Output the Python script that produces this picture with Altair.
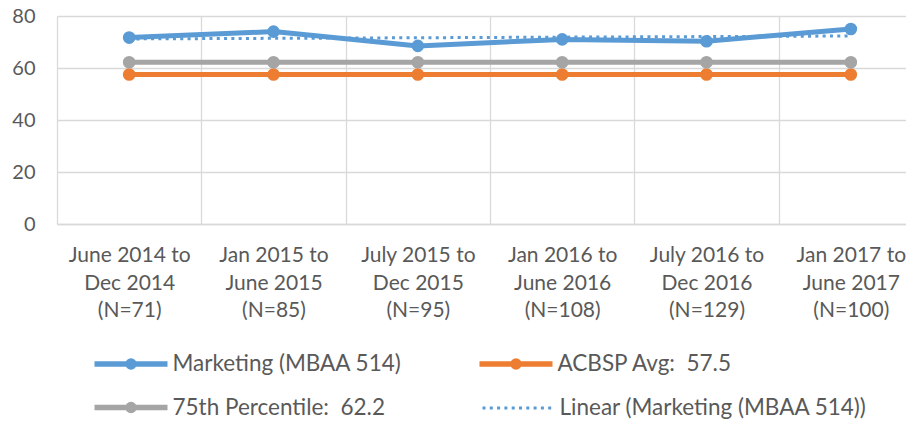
import altair as alt
import pandas as pd

# ---- data ----
periods = [
    "June 2014 to|Dec 2014|(N=71)",
    "Jan 2015 to|June 2015|(N=85)",
    "July 2015 to|Dec 2015|(N=95)",
    "Jan 2016 to|June 2016|(N=108)",
    "July 2016 to|Dec 2016|(N=129)",
    "Jan 2017 to|June 2017|(N=100)",
]
marketing = [71.7, 74.0, 68.5, 71.0, 70.3, 75.0]
acbsp_avg = [57.5, 57.5, 57.5, 57.5, 57.5, 57.5]
pct75 = [62.2, 62.2, 62.2, 62.2, 62.2, 62.2]
series_names = ["Marketing (MBAA 514)", "ACBSP Avg:\u00a0 57.5", "75th Percentile:\u00a0 62.2"]
series_colors = ["#5B9BD5", "#ED7D31", "#A5A5A5"]
trend_name = "Linear (Marketing (MBAA 514))"
y_ticks = [0, 20, 40, 60, 80]

rows = []
for name, vals in zip(series_names, [marketing, acbsp_avg, pct75]):
    for i, (p, v) in enumerate(zip(periods, vals)):
        rows.append({"series": name, "idx": i, "period": p, "value": v})
df = pd.DataFrame(rows)

FONT = "Lato"
TXT = "#595959"
GRID = "#D9D9D9"
R = 0.164
LEG_PATH = (f"M-2,0H2M{R},0A{R},{R},0,1,1,-{R},0A{R},{R},0,1,1,{R},0Z")
LEG_SIZE = 1332

VIEW_W = 849
# the category axis: one slot per period; the view shows 849 px of a 866 px wide category range
n = len(periods)
x_domain = [-0.5, -0.5 + n * VIEW_W / 866]
label_positions = list(range(n))
grid_positions = [i - 0.5 for i in range(n)]
periods_arr = "[" + ",".join("'" + p + "'" for p in periods) + "]"

x_scale = alt.Scale(domain=x_domain, nice=False, zero=False)
x_labels = alt.X(
    "idx:Q", scale=x_scale,
    axis=alt.Axis(
        orient="bottom",
        title=None, values=label_positions, labelAngle=0, ticks=False, grid=False,
        domainColor=GRID, domainWidth=1.3,
        labelExpr=f"split({periods_arr}[round(datum.value)], '|')",
        labelFont=FONT, labelFontSize=21, labelColor=TXT, labelLineHeight=27.5,
        labelBaseline="alphabetic", labelPadding=37.7, labelLimit=300,
        labelOverlap=False, labelFlush=False,
    ),
)
x_grid = alt.X(
    "idx:Q", scale=x_scale,
    axis=alt.Axis(
        orient="bottom",
        title=None, values=grid_positions, labels=False, ticks=False, domain=False,
        grid=True, gridColor=GRID, gridWidth=1.3,
    ),
)
y_enc = alt.Y(
    "value:Q",
    scale=alt.Scale(domain=[0, 80], nice=False),
    axis=alt.Axis(
        title=None, values=y_ticks, ticks=False, domain=False, grid=True,
        gridColor=GRID, gridWidth=1.3, labelFont=FONT, labelFontSize=20,
        labelColor=TXT, labelPadding=22,
    ),
)
main_legend = alt.Legend(
    title=None, orient="none", legendX=53, legendY=327, columns=2,
    direction="horizontal",
    columnPadding=66, rowPadding=8.5, symbolType=LEG_PATH, symbolSize=LEG_SIZE,
    symbolStrokeWidth=5.5, symbolOpacity=1, labelFont=FONT, labelFontSize=22.5,
    labelColor=TXT, labelOffset=20.5, padding=0, labelLimit=400,
)
color_enc = alt.Color(
    "series:N",
    scale=alt.Scale(domain=series_names, range=series_colors),
    legend=main_legend,
)

base = alt.Chart(df)
lines = base.mark_line(strokeWidth=5, strokeCap="round", strokeJoin="round").encode(
    x=x_grid, y=y_enc, color=color_enc, detail="series:N",
    order=alt.Order("idx:Q"),
)
points = base.mark_point(filled=True, size=160, opacity=1).encode(
    x=x_labels, y=y_enc, color=color_enc,
)

trend = (
    base.transform_filter(alt.datum.series == series_names[0])
    .transform_regression("idx", "value", method="linear")
    .transform_calculate(series=f"'{trend_name}'")
    .mark_line(strokeWidth=3, strokeCap="butt")
    .encode(
        x=alt.X("idx:Q", scale=x_scale, axis=None), y=y_enc, color=alt.value("#5B9BD5"),
        strokeDash=alt.StrokeDash(
            "series:N",
            scale=alt.Scale(domain=[trend_name], range=[[3, 4.3]]),
            legend=alt.Legend(
                title=None, orient="none", legendX=442, legendY=372,
                symbolType="M-2,0H2", symbolSize=LEG_SIZE, symbolStrokeColor="#5B9BD5",
                symbolStrokeWidth=3, labelFont=FONT, labelFontSize=22.5,
                labelColor=TXT, labelOffset=20.5, padding=0, labelLimit=400,
            ),
        ),
    )
)

chart = (
    alt.layer(lines, points, trend)
    .resolve_axis(x="independent")
    .properties(
        width=VIEW_W, height=208,
        autosize=alt.AutoSizeParams(type="none"),
        padding={"left": 49, "top": 8, "right": 0, "bottom": 196},
    )
    .configure_view(stroke=None)
)

chart.save("out.html", embed_options={"renderer": "svg", "actions": False})
